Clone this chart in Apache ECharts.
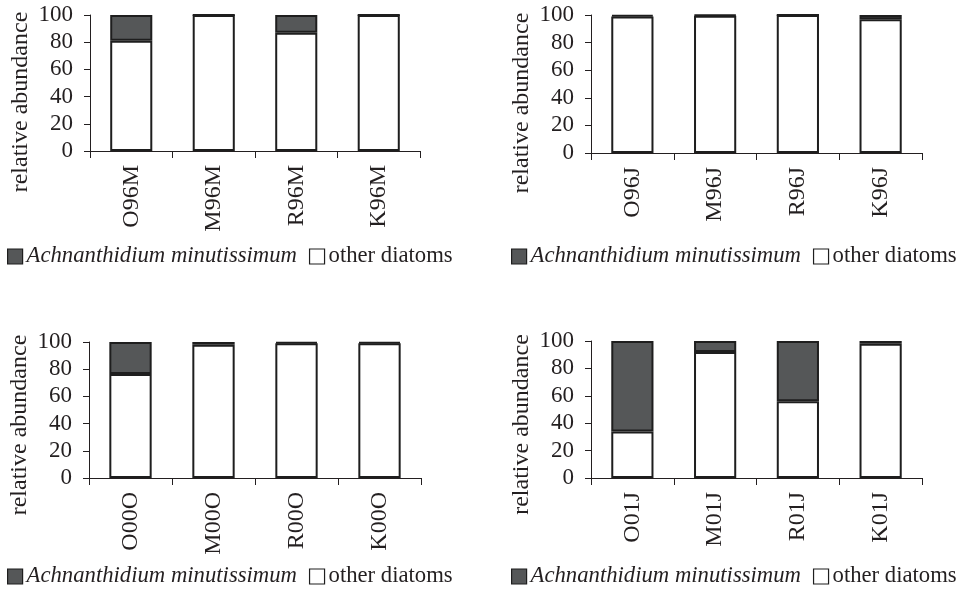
<!DOCTYPE html>
<html>
<head>
<meta charset="utf-8">
<script src="https://cdn.jsdelivr.net/npm/echarts@6/dist/echarts.min.js"></script>
<style>
html,body{margin:0;padding:0;background:#fff;}
#chart{width:967px;height:590px;}
</style>
</head>
<body>
<div id="chart"></div>
<script>
// ---- data ----
var yTicks = [0, 20, 40, 60, 80, 100];
var seriesNames = ['Achnanthidium minutissimum', 'other diatoms'];

var cats96M = ['O96M', 'M96M', 'R96M', 'K96M'];
var achn96M = [19, 0, 13, 0];
var other96M = [81, 100, 87, 100];

var cats96J = ['O96J', 'M96J', 'R96J', 'K96J'];
var achn96J = [1, 0.5, 0, 3];
var other96J = [99, 99.5, 100, 97];

var cats00O = ['O00O', 'M00O', 'R00O', 'K00O'];
var achn00O = [23.5, 2, 1, 1];
var other00O = [76.5, 98, 99, 99];

var cats01J = ['O01J', 'M01J', 'R01J', 'K01J'];
var achn01J = [66, 8, 44, 2];
var other01J = [34, 92, 56, 98];

// ---- layout ----
var panels = [
  {cats: cats96M, achn: achn96M, other: other96M, grid: {left: 90, top: 15, width: 330, height: 136}, legend: {left: 7, top: 245}, shift: 38},
  {cats: cats96J, achn: achn96J, other: other96J, grid: {left: 591, top: 15, width: 331, height: 138}, legend: {left: 511, top: 245}, shift: 38},
  {cats: cats00O, achn: achn00O, other: other00O, grid: {left: 89, top: 342, width: 332, height: 136}, legend: {left: 7, top: 565}, shift: 30},
  {cats: cats01J, achn: achn01J, other: other01J, grid: {left: 591, top: 341, width: 331, height: 137}, legend: {left: 511, top: 565}, shift: 30}
];

var FONT = '"Liberation Serif", "Times New Roman", serif';
var INK = '#231f20';
var DARK = '#555758';
var EDGE = '#1e1e1e';

var grids = [], xAxes = [], yAxes = [], series = [], legends = [];
panels.forEach(function (p, i) {
  grids.push(p.grid);
  xAxes.push({
    type: 'category', gridIndex: i, data: p.cats,
    axisLine: {show: true, lineStyle: {color: INK, width: 1}},
    axisTick: {show: true, length: 7, lineStyle: {color: INK, width: 1}},
    axisLabel: {rotate: 90, margin: 14, color: INK, fontFamily: FONT, fontSize: 24}
  });
  yAxes.push({
    type: 'value', gridIndex: i, min: yTicks[0], max: yTicks[yTicks.length - 1], interval: yTicks[1] - yTicks[0],
    splitLine: {show: false},
    axisLine: {show: true, lineStyle: {color: INK, width: 1}},
    axisTick: {show: true, length: 6, lineStyle: {color: INK, width: 1}},
    axisLabel: {margin: 17, color: INK, fontFamily: FONT, fontSize: 23},
    name: 'relative abundance', nameLocation: 'middle', nameGap: 57, nameRotate: 90,
    nameTextStyle: {color: INK, fontFamily: FONT, fontSize: 24, padding: [0, p.shift, 0, 0]}
  });
  series.push({
    name: seriesNames[1], type: 'bar', stack: 'p' + i, xAxisIndex: i, yAxisIndex: i,
    data: p.other, barWidth: '51%',
    itemStyle: {color: '#ffffff', borderColor: EDGE, borderWidth: 2}
  });
  series.push({
    name: seriesNames[0], type: 'bar', stack: 'p' + i, xAxisIndex: i, yAxisIndex: i,
    data: p.achn, barWidth: '51%',
    itemStyle: {color: DARK, borderColor: EDGE, borderWidth: 2}
  });
  legends.push({
    data: seriesNames, left: p.legend.left, top: p.legend.top, padding: 0,
    orient: 'horizontal', icon: 'rect', itemWidth: 15, itemHeight: 15, itemGap: 12,
    selectedMode: false,
    itemStyle: {borderColor: EDGE, borderWidth: 1.2},
    formatter: function (name) { return name === seriesNames[0] ? '{i|' + name + '}' : name; },
    textStyle: {color: INK, fontFamily: FONT, fontSize: 22.7, padding: [0, 0, 0, -1],
      rich: {i: {fontStyle: 'italic', fontFamily: FONT, fontSize: 22.7, color: INK}}}
  });
});

var chart = echarts.init(document.getElementById('chart'), null, {renderer: 'canvas'});
chart.setOption({
  animation: false,
  backgroundColor: '#ffffff',
  grid: grids, xAxis: xAxes, yAxis: yAxes, series: series, legend: legends
});
</script>
</body>
</html>
